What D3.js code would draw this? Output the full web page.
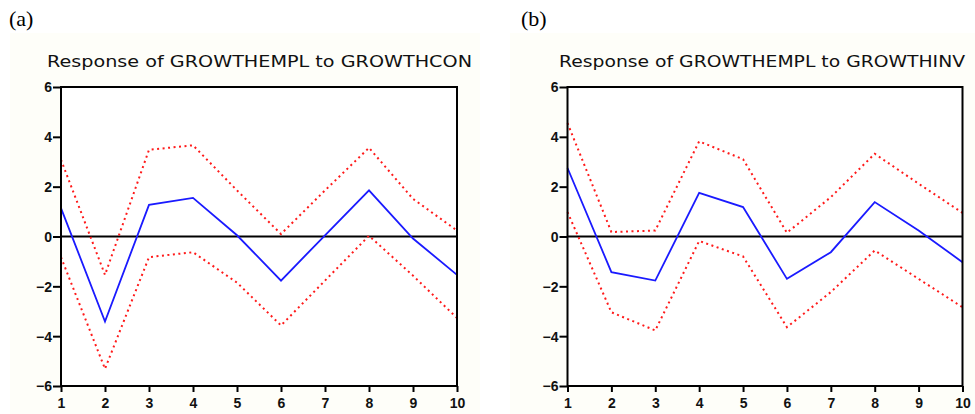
<!DOCTYPE html>
<html><head><meta charset="utf-8">
<script src="https://cdn.jsdelivr.net/npm/d3@7"></script>
<style>body{margin:0;background:#fff;} svg{display:block;}</style>
</head><body>
<svg id="c" width="975" height="414"></svg>
<script>
const periods = [1,2,3,4,5,6,7,8,9,10];
const yTicks = [-6,-4,-2,0,2,4,6];
const panelLabels = ["(a)", "(b)"];
const titles = ["Response of GROWTHEMPL to GROWTHCON", "Response of GROWTHEMPL to GROWTHINV"];
// panel (a)
const respA  = [1.14,-3.41,1.27,1.55,0.05,-1.77,0.05,1.85,-0.08,-1.54];
const upperA = [3.08,-1.54,3.48,3.66,1.85,0.10,1.85,3.56,1.51,0.24];
const lowerA = [-0.83,-5.31,-0.83,-0.63,-1.85,-3.57,-1.77,0.03,-1.57,-3.27];
// panel (b)
const respB  = [2.75,-1.43,-1.77,1.75,1.18,-1.70,-0.63,1.38,0.24,-1.03];
const upperB = [4.55,0.18,0.24,3.82,3.10,0.15,1.58,3.32,2.12,0.95];
const lowerB = [0.98,-3.04,-3.77,-0.18,-0.80,-3.64,-2.23,-0.56,-1.70,-2.84];

const svg = d3.select("#c");
const panels = [
  {bg:[10,33,470,381], lx:9, x0:61, x1:457, tx:[47,472], resp:respA, up:upperA, lo:lowerA},
  {bg:[510,33,465,381], lx:521, x0:567.5, x1:962.5, tx:[559,965], resp:respB, up:upperB, lo:lowerB}
];
const yTop = 87, yBot = 386;

panels.forEach((p,i)=>{
  svg.append("rect").attr("x",p.bg[0]).attr("y",p.bg[1]).attr("width",p.bg[2]).attr("height",p.bg[3]).attr("fill","#fefef9");
  svg.append("text").attr("x",p.lx).attr("y",26).attr("font-family","'Liberation Serif','Times New Roman',serif")
     .attr("font-size",22).attr("fill","#000").text(panelLabels[i]);
  const x = d3.scaleLinear().domain([1,10]).range([p.x0,p.x1]);
  const y = d3.scaleLinear().domain([-6,6]).range([yBot,yTop]);
  const g = svg.append("g");
  g.append("rect").attr("x",p.x0).attr("y",yTop).attr("width",p.x1-p.x0).attr("height",yBot-yTop).attr("fill","#fff");
  g.append("text").attr("x",p.tx[0]).attr("y",67)
    .attr("font-family","'DejaVu Sans',Verdana,sans-serif").attr("font-size",15).attr("fill","#111")
    .attr("textLength",p.tx[1]-p.tx[0]).attr("lengthAdjust","spacingAndGlyphs").text(titles[i]);
  // zero line
  g.append("line").attr("x1",p.x0).attr("x2",p.x1).attr("y1",y(0)).attr("y2",y(0)).attr("stroke","#000").attr("stroke-width",1.8);
  const line = d3.line().x((d,j)=>x(periods[j])).y(d=>y(d));
  g.append("path").attr("d",line(p.up)).attr("fill","none").attr("stroke","#ff1a1a").attr("stroke-width",2).attr("stroke-dasharray","2,3.5");
  g.append("path").attr("d",line(p.lo)).attr("fill","none").attr("stroke","#ff1a1a").attr("stroke-width",2).attr("stroke-dasharray","2,3.5");
  g.append("path").attr("d",line(p.resp)).attr("fill","none").attr("stroke","#1a1aff").attr("stroke-width",1.8);
  // frame
  g.append("rect").attr("x",p.x0).attr("y",yTop).attr("width",p.x1-p.x0).attr("height",yBot-yTop).attr("fill","none").attr("stroke","#000").attr("stroke-width",2);
  // axes
  const ax = g.append("g").attr("transform",`translate(0,${yBot})`).call(d3.axisBottom(x).tickValues(periods).tickFormat(d3.format("d")).tickSize(6).tickSizeOuter(0));
  const ay = g.append("g").attr("transform",`translate(${p.x0},0)`).call(d3.axisLeft(y).tickValues(yTicks).tickFormat(d3.format("d")).tickSize(8).tickSizeOuter(0));
  [ax,ay].forEach(a=>{
    a.select(".domain").remove();
    a.selectAll("line").attr("stroke","#000").attr("stroke-width",2);
    a.selectAll("text").attr("font-family","'Liberation Sans',Arial,sans-serif").attr("font-size",14).attr("font-weight","bold").attr("fill","#111");
  });
  ax.selectAll("text").attr("dy","0").attr("y",22);
  ay.selectAll("text").attr("x",-9).attr("dy","0.35em");
});
</script>
</body></html>
